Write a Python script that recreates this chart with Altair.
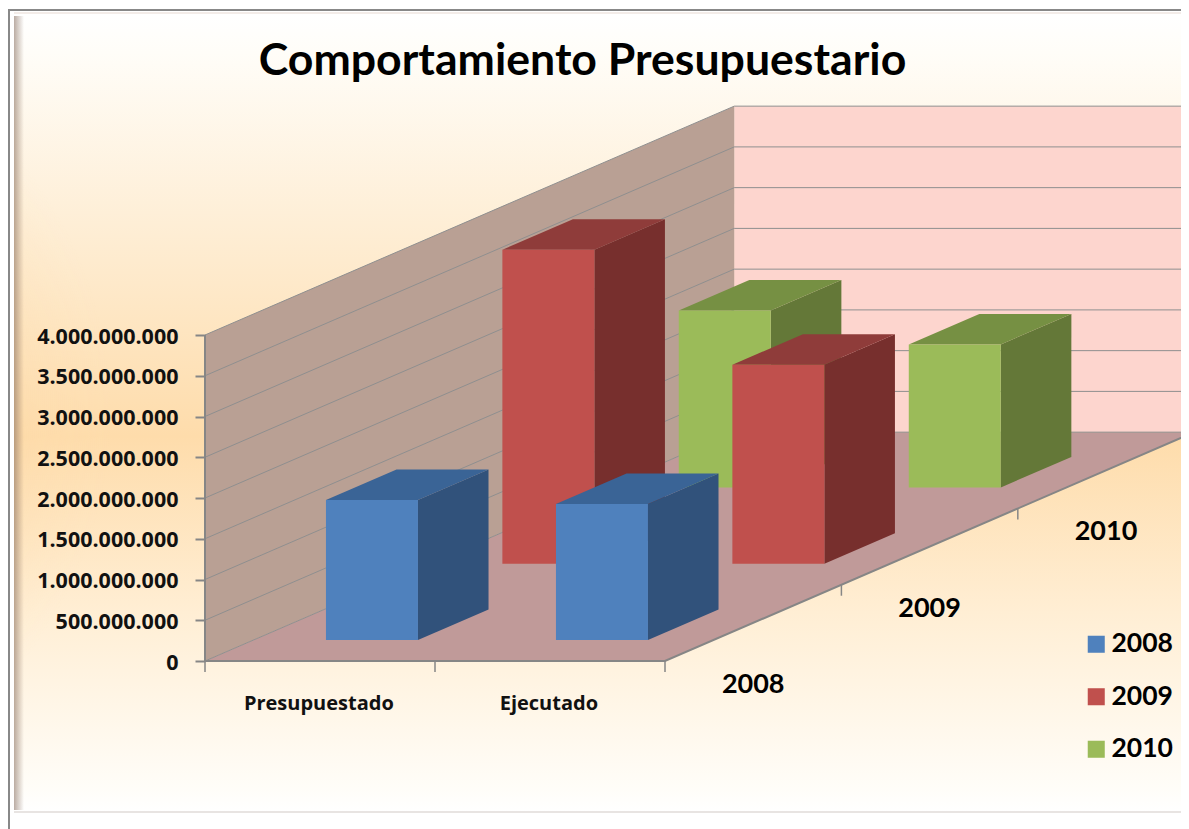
import altair as alt
import pandas as pd

# ---- chart values ----
TITLE = "Comportamiento Presupuestario"
CATEGORIES = ["Presupuestado", "Ejecutado"]
SERIES = ["2008", "2009", "2010"]
COLORS_FRONT = ["#4f81bd", "#c0504d", "#9bbb59"]
COLORS_SIDE = ["#31527b", "#772f2d", "#647838"]
COLORS_TOP = ["#3a6496", "#8f3c3a", "#769043"]
VALUES_2008 = [1.718e9, 1.669e9]
VALUES_2009 = [3.853e9, 2.442e9]
VALUES_2010 = [2.172e9, 1.755e9]
SERIES_VALUES = [VALUES_2008, VALUES_2009, VALUES_2010]
TICKS = [0, 5e8, 1e9, 1.5e9, 2e9, 2.5e9, 3e9, 3.5e9, 4e9]

# ---- oblique projection: a depth step moves right and up ----
W, H = 1173, 821
CAT_PX = 230.0
VAL_PX = 81.5 / 1e9
X0_PX, Y0_PX = 197.0, 653.0   # where category 0 / value 0 fall in the chart
PW = W - int(X0_PX)           # plot width: the y axis sits on the plot's left edge
X_PER_DEPTH = 0.767
V_PER_DEPTH = 0.936e9
BAR_X, BAR_W, BAR_D0, BAR_D = 0.315, 0.4, 0.275, 0.4
N_CAT, N_DEPTH, V_MAX = 2, 3, 4e9


def px(c, d=0.0):
    return c + d * X_PER_DEPTH


def py(v, d=0.0):
    return v + d * V_PER_DEPTH


X_SCALE = alt.Scale(domain=[0, PW / CAT_PX], range=[0, PW], nice=False, zero=False)
Y_SCALE = alt.Scale(domain=[-(H - Y0_PX) / VAL_PX, Y0_PX / VAL_PX], range=[H, 0], nice=False, zero=False)
Y_AXIS = alt.Axis(
    values=TICKS, domain=False, grid=False, tickColor="#868686", tickWidth=2, tickSize=10,
    labelFont="Open Sans", labelFontWeight="bold", labelFontSize=21.5, labelColor="#111111",
    labelPadding=17, labelOffset=2, labelOverlap=False, labelFlush=False, zindex=1,
    labelExpr="replace(format(datum.value, ',d'), /,/g, '.')")
FX = lambda f="x": alt.X(f"{f}:Q", scale=X_SCALE, axis=None, title=None)
FY = lambda f="y": alt.Y(f"{f}:Q", scale=Y_SCALE, axis=Y_AXIS, title=None)
X2 = alt.X2("x2:Q")
Y2 = alt.Y2("y2:Q")


def vface(rows, color):
    """Parallelogram with vertical edges."""
    return alt.Chart(pd.DataFrame(rows)).mark_area(orient="vertical", color=color).encode(
        x=FX(), y=FY(), y2=Y2, detail="g:N")


def hface(rows, color):
    """Parallelogram with horizontal edges."""
    return alt.Chart(pd.DataFrame(rows)).mark_area(orient="horizontal", color=color).encode(
        y=FY(), x=FX(), x2=X2, detail="g:N")


dummy = pd.DataFrame({"a": [0]})
L = -X0_PX  # left end of the chart, seen from the plot's origin

# ---- panel ----
bg = alt.Chart(dummy).mark_rect(
    color=alt.LinearGradient(
        gradient="linear", x1=0, y1=0, x2=0, y2=1,
        stops=[
            alt.GradientStop(offset=0, color="#ffffff"),
            alt.GradientStop(offset=0.05, color="#fffdf8"),
            alt.GradientStop(offset=0.25, color="#feefd8"),
            alt.GradientStop(offset=0.53, color="#fedcab"),
            alt.GradientStop(offset=0.75, color="#ffeed4"),
            alt.GradientStop(offset=0.97, color="#fffdf8"),
            alt.GradientStop(offset=1, color="#ffffff"),
        ],
    )
).encode(x=alt.value(L + 6), x2=alt.value(PW), y=alt.value(5), y2=alt.value(804))

glow = alt.Chart(dummy).mark_rect(
    color=alt.RadialGradient(
        gradient="radial", x1=0, y1=0.5, r1=0, x2=0, y2=0.5, r2=0.5,
        stops=[
            alt.GradientStop(offset=0, color="rgba(248,185,115,0.8)"),
            alt.GradientStop(offset=1, color="rgba(254,223,176,0)"),
        ],
    )
).encode(x=alt.value(L + 6), x2=alt.value(L + 200), y=alt.value(5), y2=alt.value(804))

edge = alt.Chart(dummy).mark_rect(
    color=alt.LinearGradient(
        gradient="linear", x1=0, y1=0, x2=1, y2=0,
        stops=[
            alt.GradientStop(offset=0, color="rgba(130,105,90,0.55)"),
            alt.GradientStop(offset=1, color="rgba(130,105,90,0)"),
        ],
    )
).encode(x=alt.value(L + 6), x2=alt.value(L + 16), y=alt.value(8), y2=alt.value(802))

frame_top = alt.Chart(dummy).mark_rect(color="#888888").encode(
    x=alt.value(L), x2=alt.value(PW), y=alt.value(1), y2=alt.value(3))
frame_left = alt.Chart(dummy).mark_rect(color="#888888").encode(
    x=alt.value(L), x2=alt.value(L + 2), y=alt.value(1), y2=alt.value(H))
panel_bottom = alt.Chart(dummy).mark_rect(color="#e8e4e2").encode(
    x=alt.value(L + 6), x2=alt.value(PW), y=alt.value(803), y2=alt.value(805))
panel_top = alt.Chart(dummy).mark_rect(color="#f3ece8").encode(
    x=alt.value(L + 6), x2=alt.value(PW), y=alt.value(4), y2=alt.value(6))

# ---- walls and floor ----
back_wall = vface([
    {"x": px(c, N_DEPTH), "y": py(0, N_DEPTH), "y2": py(V_MAX, N_DEPTH), "g": "b"} for c in (0, N_CAT)
], "#fdd5ce")

left_wall = vface([
    {"x": px(0, d), "y": py(0, d), "y2": py(V_MAX, d), "g": "w"} for d in (0, N_DEPTH)
], "#b9a094")

floor = hface([
    {"y": py(0, d), "x": px(0, d), "x2": px(N_CAT, d), "g": "f"} for d in (0, N_DEPTH)
], "#c09a99")

grid_rows = []
for v in TICKS:
    for order, (c, d) in enumerate([(0, 0), (0, N_DEPTH), (N_CAT, N_DEPTH)]):
        grid_rows.append({"x": px(c, d), "y": py(v, d), "v": v, "o": order})
grid = alt.Chart(pd.DataFrame(grid_rows)).mark_line(color="#8f8f8f", strokeWidth=1).encode(
    x=FX(), y=FY(), detail="v:N", order="o:Q")

edge_rows = [
    {"x": px(0, 0), "y": py(0, 0), "g": "a", "o": 0},
    {"x": px(N_CAT, 0), "y": py(0, 0), "g": "a", "o": 1},
    {"x": px(N_CAT, N_DEPTH), "y": py(0, N_DEPTH), "g": "a", "o": 2},
    {"x": px(0, 0), "y": py(0, 0), "g": "b", "o": 0},
    {"x": px(0, 0), "y": py(V_MAX, 0), "g": "b", "o": 1},
]
edges = alt.Chart(pd.DataFrame(edge_rows)).mark_line(color="#868686", strokeWidth=2).encode(
    x=FX(), y=FY(), detail="g:N", order="o:Q")

# ---- ticks on the floor ----
TICK_LEN = 0.135e9
tick_rows = [{"x": px(c), "y": py(0), "y2": py(0) - TICK_LEN} for c in range(N_CAT + 1)]
tick_rows += [{"x": px(N_CAT, d), "y": py(0, d), "y2": py(0, d) - TICK_LEN} for d in range(1, N_DEPTH)]
ticks = alt.Chart(pd.DataFrame(tick_rows)).mark_rule(color="#868686", strokeWidth=1.5).encode(
    x=FX(), y=FY(), y2=Y2)

# ---- bars, back to front ----
bars = []
color_enc = alt.Color(
    "serie:N",
    scale=alt.Scale(domain=SERIES, range=COLORS_FRONT),
    legend=alt.Legend(
        title=None, orient="none", legendX=1075 - X0_PX, legendY=623, symbolType="square", symbolSize=290,
        symbolStrokeWidth=0, labelFont="Lato", labelFontWeight="bold", labelFontSize=26.5,
        labelColor="#000000", labelOffset=2, rowPadding=25.5, labelLimit=200),
)
for s in reversed(range(len(SERIES))):
    side, top, front = [], [], []
    for c, val in enumerate(SERIES_VALUES[s]):
        d0 = BAR_D0 + s
        d1 = d0 + BAR_D
        xl = c + BAR_X
        xr = xl + BAR_W
        g = f"{s}-{c}"
        side += [{"x": px(xr, d), "y": py(0, d), "y2": py(val, d), "g": g} for d in (d0, d1)]
        top += [{"y": py(val, d), "x": px(xl, d), "x2": px(xr, d), "g": g} for d in (d0, d1)]
        front.append({"x": px(xl, d0), "x2": px(xr, d0), "y": py(0, d0), "y2": py(val, d0),
                      "serie": SERIES[s]})
    bars.append(vface(side, COLORS_SIDE[s]))
    bars.append(hface(top, COLORS_TOP[s]))
    bars.append(alt.Chart(pd.DataFrame(front)).mark_rect().encode(
        x=FX(), x2=X2, y=FY(), y2=Y2, color=color_enc))

# ---- text labels ----
cat_labels = alt.Chart(pd.DataFrame([
    {"x": px(i + 0.5) - 0.005, "y": py(-0.53e9), "t": t} for i, t in enumerate(CATEGORIES)
])).mark_text(font="Open Sans", fontWeight="bold", fontSize=20, color="#111111", baseline="middle").encode(
    x=FX(), y=FY(), text="t:N")

depth_labels = alt.Chart(pd.DataFrame([
    {"x": px(N_CAT, i + 0.5), "y": py(-0.76e9, i + 0.5), "t": t} for i, t in enumerate(SERIES)
])).mark_text(font="Lato", fontWeight="bold", fontSize=27, color="#000000", baseline="middle").encode(
    x=FX(), y=FY(), text="t:N")

layers = [bg, glow, edge, panel_top, panel_bottom, frame_top, frame_left,
          back_wall, left_wall, floor, grid, edges, ticks] + bars + [cat_labels, depth_labels]

chart = alt.layer(*layers).properties(
    width=PW, height=H, padding={"left": X0_PX, "top": 0, "right": 0, "bottom": 0},
    autosize=alt.AutoSizeParams(type="none", contains="content"),
    title=alt.TitleParams(TITLE, font="Lato", fontWeight="bold", fontSize=44.6, color="#000000",
                          anchor="middle", dx=-110.5, dy=77, offset=0, zindex=1),
).configure_view(stroke=None)

chart.save("out.html", embed_options={"renderer": "svg", "actions": False})
